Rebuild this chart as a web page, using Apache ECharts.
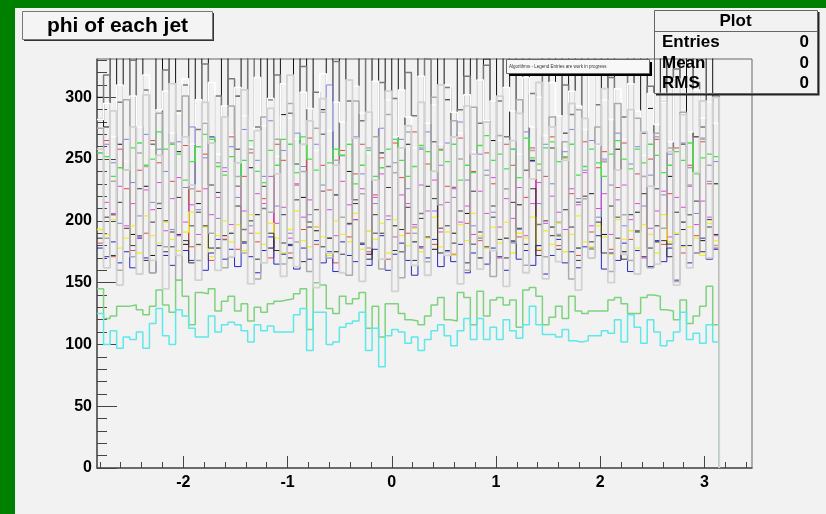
<!DOCTYPE html>
<html><head><meta charset="utf-8">
<script src="https://cdn.jsdelivr.net/npm/echarts@6/dist/echarts.min.js"></script>
<style>
html,body{margin:0;padding:0;background:#008000;}
#wrap{position:relative;width:826px;height:514px;background:#008000;overflow:hidden;}
#panel{position:absolute;left:15px;top:8px;width:811px;height:506px;background:#f2f2f2;}
#chart{position:absolute;left:0;top:0;width:826px;height:514px;}
</style></head>
<body><div id="wrap"><div id="panel"></div><div id="chart"></div></div>
<script>
// ---- data (bin contents, 100 bins over [-pi, pi], first 5 bins lie left of the axis range) ----
const FIRST_BIN = 5;
const N_BINS_TOTAL = 100;
const xLabels = [-2, -1, 0, 1, 2, 3];
const xMinorTicks = [-2.8,-2.6,-2.4,-2.2,-1.8,-1.6,-1.4,-1.2,-0.8,-0.6,-0.4,-0.2,0.2,0.4,0.6,0.8,1.2,1.4,1.6,1.8,2.2,2.4,2.6,2.8,3.2,3.4];
const yLabels = [0, 50, 100, 150, 200, 250, 300];
const yMinorTicks = [10,20,30,40,60,70,80,90,110,120,130,140,160,170,180,190,210,220,230,240,260,270,280,290,310,320,330];
const yMax = 331;

const blackVals = [300,276,345,262,355,189,350,228,172,360,
 200,345,256,181,372,214,340,268,178,352,
 190,301,364,243,205,346,178,352,286,170,
 338,219,357,192,290,366,175,344,240,201,
 359,173,333,255,348,196,371,262,183,341,
 228,177,355,298,190,347,206,362,170,331,
 265,352,186,340,213,376,249,180,349,195,
 338,271,358,178,344,222,366,189,337,258,
 175,353,207,345,291,183,362,236,341,199,
 350,268,184,339,230];
const darkGrayVals = [282,318,205,296,241,330,188,306,262,214,
 322,179,289,310,196,274,327,229,301,185,
 315,258,193,333,276,210,298,318,182,287,
 246,325,199,304,270,186,329,253,297,217,
 281,336,190,312,244,299,175,320,285,206,
 331,264,194,308,227,290,317,181,279,326,
 212,297,268,184,319,241,303,197,334,259,
 188,310,286,215,327,178,294,248,316,203,
 284,338,192,271,309,226,296,181,323,262,
 205,312,276,195,301];
const whiteVals = [282,295,268,310,248,301,276,318,259,290,
 305,271,287,315,262,298,280,312,254,293,
 269,308,285,260,316,277,299,252,311,283,
 266,304,291,257,319,273,296,280,263,309,
 287,255,313,275,298,268,306,284,259,317,
 279,294,262,310,288,271,302,256,314,281,
 297,265,308,289,254,316,276,300,269,312,
 285,258,305,293,274,318,261,298,282,307,
 266,311,289,253,303,278,296,264,315,287,
 272,306,283,296,279];
const slateVals = [255,262,247,198,266,231,204,270,215,258,
 240,193,264,227,276,209,251,268,202,243,
 260,219,274,196,249,236,281,212,257,190,
 271,244,205,262,229,310,221,253,197,268,
 238,259,214,275,201,247,266,226,190,258,
 272,208,245,263,219,280,233,196,254,241,
 207,269,226,258,193,272,248,214,262,230,
 199,256,274,218,241,265,203,250,229,271,
 196,246,260,212,237,268,221,254,189,263,
 243,206,267,232,248];
const redVals = [182,265,171,258,226,176,241,190,265,247,
 172,232,188,261,179,224,254,168,244,185,
 268,177,236,255,183,218,170,262,249,174,
 229,193,267,181,245,225,166,257,187,238,
 262,175,221,251,169,263,235,190,272,178,
 246,181,258,228,173,267,198,240,184,255,
 230,170,262,245,187,219,259,176,236,268,
 180,251,222,172,264,191,243,256,177,227,
 263,185,238,170,250,266,181,222,259,174,
 245,188,264,230,178];
const greenVals = [255,252,236,243,241,259,263,245,250,272,
 258,262,254,233,248,260,270,266,244,237,
 252,228,249,265,240,231,257,245,266,262,
 239,268,250,241,224,247,258,253,262,230,
 245,257,236,243,258,266,249,236,244,261,
 256,240,257,248,262,233,245,239,261,269,
 249,254,242,258,235,267,251,246,259,264,
 248,252,262,237,244,258,247,236,254,265,
 250,242,258,247,262,253,239,245,256,249,
 263,238,251,254,252];
const magentaVals = [193,215,206,228,196,214,187,225,209,231,
 192,218,235,199,213,189,226,205,219,240,
 197,228,208,190,222,214,236,198,211,186,
 230,203,217,195,224,209,188,232,213,201,
 226,192,219,238,204,187,221,214,197,229,
 208,233,191,215,226,199,212,189,224,206,
 235,195,218,202,227,188,214,231,198,220,
 207,193,226,213,239,196,210,222,189,217,
 229,201,214,236,194,208,224,187,219,211,
 228,197,216,203,188];
const yellowVals = [193,189,201,178,186,196,174,204,188,182,
 199,185,176,191,207,180,195,171,188,200,
 183,197,176,205,190,181,198,186,174,193,
 208,184,179,195,187,172,200,189,183,206,
 177,192,185,198,174,201,188,180,194,175,
 186,203,179,191,172,197,184,206,188,178,
 195,182,199,174,190,186,203,177,192,181,
 198,175,189,204,183,179,196,187,173,201,
 185,192,178,197,189,174,205,183,190,179,
 195,186,172,198,184];
const blueVals = [178,171,183,166,175,162,186,170,158,180,
 172,164,189,176,168,181,160,174,185,169,
 177,163,182,171,158,176,187,165,173,180,
 161,178,169,184,166,175,159,183,172,167,
 181,164,177,188,160,173,182,168,156,179,
 170,185,163,176,167,181,158,174,186,165,
 178,171,160,183,169,176,164,180,157,172,
 185,166,175,162,179,170,188,161,174,168,
 182,159,176,171,163,184,167,178,152,180,
 166,174,186,169,177];
const darkLowVals = [186,203,172,215,194,180,226,168,199,210,
 175,191,219,184,166,207,196,178,223,188,
 171,212,183,200,169,228,190,176,205,181,
 217,167,195,209,179,186,221,173,198,214,
 182,169,205,190,227,176,193,211,168,202,
 187,218,174,196,182,208,166,224,191,179,
 203,185,170,215,194,181,226,172,200,188,
 177,209,195,168,220,183,199,174,212,186,
 169,205,191,222,178,196,184,171,207,193,
 180,216,175,201,189];
const midGrayVals = [275,186,232,160,298,171,255,244,158,287,
 179,263,152,301,226,168,279,190,247,162,
 293,236,174,258,153,284,207,266,165,295,
 183,240,159,275,288,170,249,203,156,297,
 222,178,268,161,286,239,154,272,195,259,
 167,300,213,175,281,250,160,292,186,237,
 155,269,226,182,298,164,257,241,171,284,
 189,264,153,290,218,177,276,248,159,295,
 205,168,283,236,162,271,194,259,151,288,
 229,174,266,245,180];
const lightGrayVals = [258,162,289,148,241,276,157,302,168,253,
 145,311,172,268,229,152,296,263,160,284,
 171,247,306,149,273,166,291,238,155,318,
 163,262,281,146,299,174,245,158,314,267,
 151,288,233,169,305,143,259,277,164,296,
 156,240,310,172,268,149,293,254,161,280,
 176,301,147,265,287,158,234,312,153,276,
 167,249,295,144,283,170,262,307,150,241,
 173,290,157,272,228,165,303,256,148,286,
 162,239,297,170,300];
const lowGreenVals = [145,121,123,131,131,132,128,124,131,144,
 132,126,152,139,116,142,141,145,127,135,
 139,127,133,119,130,126,133,135,136,137,
 141,145,112,150,148,129,125,139,133,137,
 142,113,131,106,133,133,125,120,119,116,
 123,132,138,120,119,142,138,116,143,123,
 136,138,132,136,114,144,146,139,116,122,
 131,121,139,127,125,127,127,127,136,138,
 133,125,125,138,140,139,128,127,120,136,
 117,123,131,147,116];
const cyanVals = [125,100,111,97,106,104,110,97,117,129,
 107,100,128,123,113,106,106,123,110,116,
 118,116,111,102,116,111,115,110,110,110,
 124,129,95,126,126,100,102,114,117,119,
 126,95,113,82,107,112,110,101,106,95,
 104,111,116,107,99,111,121,104,121,104,
 114,104,120,111,105,116,131,116,108,108,
 106,112,103,102,103,107,107,111,109,120,
 102,124,114,101,120,110,99,103,110,126,
 104,109,101,116,102];

// ---- build ----
const BIN_W = 2 * Math.PI / N_BINS_TOTAL;
const X0 = -Math.PI + FIRST_BIN * BIN_W;
const X_MAX = X0 + 2 * Math.PI;

function hist(vals) {
  const d = vals.map((v, k) => [X0 + k * BIN_W, v]);
  d.push([X0 + vals.length * BIN_W, 0]);
  return d;
}
function s(vals, color, width) {
  return { type: 'line', step: 'end', symbol: 'none', silent: true, clip: true,
    xAxisIndex: 0, yAxisIndex: 0, data: hist(vals),
    lineStyle: { color: color, width: width }, emphasis: { disabled: true } };
}
const FONT = '"Liberation Sans", Arial, Helvetica, sans-serif';

const chart = echarts.init(document.getElementById('chart'), null, { renderer: 'canvas' });
const axisLab = { fontFamily: FONT, fontWeight: 'bold', fontSize: 16, color: '#000' };
chart.setOption({
  animation: false,
  backgroundColor: 'transparent',
  grid: { left: 97, top: 59, width: 655, height: 409, show: true, borderColor: '#666', borderWidth: 1, backgroundColor: 'transparent' },
  xAxis: [
    { type: 'value', min: X0, max: X_MAX, position: 'bottom',
      axisLine: { show: true, onZero: false, lineStyle: { color: '#555', width: 1.5 } },
      axisTick: { show: true, inside: true, length: 12, customValues: xLabels, lineStyle: { color: '#444', width: 1 } },
      axisLabel: Object.assign({ show: true, margin: 7, customValues: xLabels }, axisLab),
      splitLine: { show: false } },
    { type: 'value', min: X0, max: X_MAX, position: 'bottom',
      axisLine: { show: false, onZero: false },
      axisTick: { show: true, inside: true, length: 6, customValues: xMinorTicks, lineStyle: { color: '#444', width: 1 } },
      axisLabel: { show: false }, splitLine: { show: false } }
  ],
  yAxis: [
    { type: 'value', min: 0, max: yMax, position: 'left',
      axisLine: { show: true, onZero: false, lineStyle: { color: '#555', width: 1.5 } },
      axisTick: { show: true, inside: true, length: 20, customValues: yLabels, lineStyle: { color: '#444', width: 1 } },
      axisLabel: Object.assign({ show: true, margin: 5, customValues: yLabels }, axisLab),
      splitLine: { show: false } },
    { type: 'value', min: 0, max: yMax, position: 'left', offset: 0,
      axisLine: { show: false, onZero: false },
      axisTick: { show: true, inside: true, length: 10, customValues: yMinorTicks, lineStyle: { color: '#444', width: 1 } },
      axisLabel: { show: false }, splitLine: { show: false } }
  ],
  series: [
    s(blackVals, '#111111', 1),
    s(darkGrayVals, '#7a7a7a', 1.5),
    s(whiteVals, '#ffffff', 1.5),
    s(slateVals, '#8282dc', 1),
    s(redVals, '#e04848', 1),
    s(greenVals, '#3ee83e', 1.3),
    s(magentaVals, '#e244e2', 1),
    s(yellowVals, '#f2f022', 1.3),
    s(blueVals, '#2626c4', 1),
    s(darkLowVals, '#333333', 1),
    s(midGrayVals, '#ababab', 1.5),
    s(lowGreenVals, '#7ed27e', 1.5),
    s(cyanVals, '#5ee8e8', 1.5),
    s(lightGrayVals, '#d2d2d2', 1.8)
  ],
  graphic: [
    // title box
    { type: 'rect', z: 100, shape: { x: 24, y: 13, width: 190, height: 28 }, style: { fill: '#333' } },
    { type: 'rect', z: 101, shape: { x: 22.5, y: 11.5, width: 190, height: 28 }, style: { fill: '#f4f4f4', stroke: '#777', lineWidth: 1 } },
    { type: 'text', z: 102, x: 117.5, y: 26, style: { text: 'phi of each jet', fontFamily: FONT, fontWeight: 'bold', fontSize: 21, fill: '#000', align: 'center', verticalAlign: 'middle', textAlign: 'center', textVerticalAlign: 'middle' } },
    // legend box
    { type: 'rect', z: 100, shape: { x: 509, y: 62, width: 143, height: 14 }, style: { fill: '#000' } },
    { type: 'rect', z: 101, shape: { x: 506.5, y: 59.5, width: 143, height: 14 }, style: { fill: '#f8f8f8', stroke: '#666', lineWidth: 1 } },
    { type: 'text', z: 102, x: 509, y: 66.5, style: { text: 'Algorithms - Legend Entries are work in progress', fontFamily: FONT, fontSize: 4.5, fill: '#333', align: 'left', verticalAlign: 'middle', textAlign: 'left', textVerticalAlign: 'middle' } },
    // stats box
    { type: 'polyline', z: 100, shape: { points: [[818.5, 12], [818.5, 94.5], [656, 94.5]] }, style: { stroke: '#222', lineWidth: 2, fill: 'none' } },
    { type: 'rect', z: 101, shape: { x: 654.5, y: 10.5, width: 163, height: 83 }, style: { fill: 'none', stroke: '#666', lineWidth: 1 } },
    { type: 'line', z: 101, shape: { x1: 654.5, y1: 31.5, x2: 817.5, y2: 31.5 }, style: { stroke: '#666', lineWidth: 1 } },
    { type: 'text', z: 102, x: 735.5, y: 21.5, style: { text: 'Plot', fontFamily: FONT, fontWeight: 'bold', fontSize: 17, fill: '#000', align: 'center', verticalAlign: 'middle', textAlign: 'center', textVerticalAlign: 'middle' } },
    { type: 'text', z: 102, x: 662, y: 42.5, style: { text: 'Entries', fontFamily: FONT, fontWeight: 'bold', fontSize: 17, fill: '#000', align: 'left', verticalAlign: 'middle', textAlign: 'left', textVerticalAlign: 'middle' } },
    { type: 'text', z: 102, x: 662, y: 63, style: { text: 'Mean', fontFamily: FONT, fontWeight: 'bold', fontSize: 17, fill: '#000', align: 'left', verticalAlign: 'middle', textAlign: 'left', textVerticalAlign: 'middle' } },
    { type: 'text', z: 102, x: 662, y: 83, style: { text: 'RMS', fontFamily: FONT, fontWeight: 'bold', fontSize: 17, fill: '#000', align: 'left', verticalAlign: 'middle', textAlign: 'left', textVerticalAlign: 'middle' } },
    { type: 'text', z: 102, x: 809, y: 42.5, style: { text: '0', fontFamily: FONT, fontWeight: 'bold', fontSize: 17, fill: '#000', align: 'right', verticalAlign: 'middle', textAlign: 'right', textVerticalAlign: 'middle' } },
    { type: 'text', z: 102, x: 809, y: 63, style: { text: '0', fontFamily: FONT, fontWeight: 'bold', fontSize: 17, fill: '#000', align: 'right', verticalAlign: 'middle', textAlign: 'right', textVerticalAlign: 'middle' } },
    { type: 'text', z: 102, x: 809, y: 83, style: { text: '0', fontFamily: FONT, fontWeight: 'bold', fontSize: 17, fill: '#000', align: 'right', verticalAlign: 'middle', textAlign: 'right', textVerticalAlign: 'middle' } }
  ]
});
</script></body></html>
